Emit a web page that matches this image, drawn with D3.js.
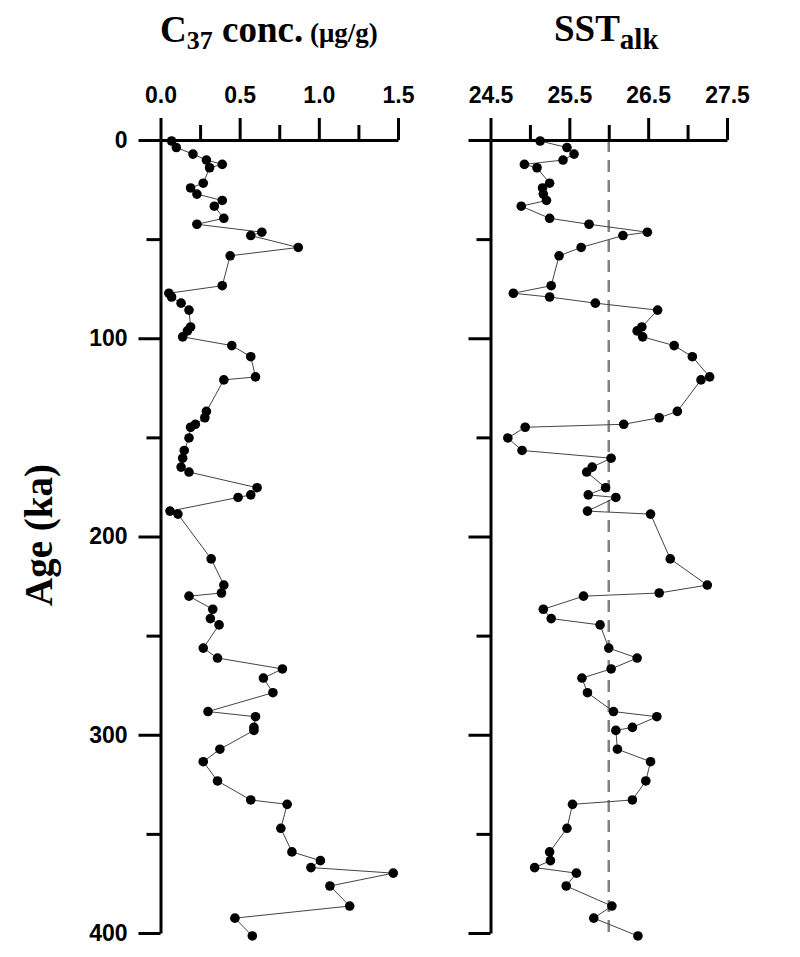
<!DOCTYPE html>
<html>
<head>
<meta charset="utf-8">
<script src="https://cdn.jsdelivr.net/npm/d3@7"></script>
<style>
body { margin: 0; background: #fff; }
.tick text { font-family: "Liberation Sans", Arial, sans-serif; font-weight: bold; font-size: 23px; fill: #000; }
.title { font-family: "Liberation Serif", "Times New Roman", serif; font-weight: bold; fill: #000; }
</style>
</head>
<body>
<div id="chart"></div>
<script>
// sample ages (ka), shared by both records
var ages = [0.5, 3.8, 7.1, 10.1, 12.3, 14, 21.8, 24.2, 27.3, 30.5,
    33.4, 39.5, 42.5, 46.5, 48.2, 54.2, 58.4, 73.5, 77.3, 79.2,
    82.3, 85.8, 94.3, 96.3, 99.3, 103.7, 109.3, 119.5, 121, 136.9,
    140.1, 143.4, 144.9, 150.3, 156.6, 160.5, 165, 167.5, 175.4, 179,
    180.3, 187.2, 188.7, 211.3, 224.5, 228.5, 230.1, 236.7, 241.4, 244.6,
    256.3, 261.3, 266.8, 271.4, 278.8, 288.3, 290.9, 296.3, 297.8, 307.3,
    313.6, 323.3, 332.9, 335.1, 347.2, 359.1, 363.5, 367, 369.8, 376.3,
    386.4, 392.5, 401.5];

// C37 alkenone concentration (ug/g)
var c37 = [0.07, 0.10, 0.205, 0.29, 0.39, 0.31, 0.27, 0.19, 0.23, 0.39,
    0.34, 0.40, 0.23, 0.64, 0.57, 0.87, 0.44, 0.39, 0.053, 0.07,
    0.13, 0.18, 0.19, 0.17, 0.14, 0.45, 0.57, 0.60, 0.40, 0.29,
    0.28, 0.22, 0.19, 0.18, 0.15, 0.14, 0.13, 0.18, 0.61, 0.57,
    0.49, 0.06, 0.11, 0.32, 0.40, 0.385, 0.18, 0.33, 0.315, 0.37,
    0.27, 0.36, 0.77, 0.65, 0.71, 0.30, 0.60, 0.59, 0.59, 0.375,
    0.27, 0.36, 0.57, 0.80, 0.76, 0.83, 1.01, 0.95, 1.47, 1.07,
    1.195, 0.47, 0.58];

// alkenone SST (deg C)
var sst = [25.13, 25.47, 25.56, 25.42, 24.93, 25.09, 25.25, 25.16, 25.17, 25.21,
    24.89, 25.25, 25.75, 26.49, 26.18, 25.65, 25.37, 25.27, 24.79, 25.25,
    25.83, 26.62, 26.42, 26.36, 26.43, 26.83, 27.06, 27.28, 27.17, 26.87,
    26.64, 26.19, 24.94, 24.72, 24.90, 26.03, 25.79, 25.72, 25.96, 25.74,
    26.09, 25.73, 26.53, 26.78, 27.25, 26.64, 25.68, 25.17, 25.27, 25.89,
    26.00, 26.36, 26.03, 25.66, 25.73, 26.06, 26.61, 26.30, 26.09, 26.11,
    26.53, 26.47, 26.30, 25.54, 25.47, 25.25, 25.26, 25.06, 25.59, 25.46,
    26.04, 25.81, 26.37];

var c37Major = [0, 0.5, 1.0, 1.5];
var c37Minor = [0.25, 0.75, 1.25];
var sstMajor = [24.5, 25.5, 26.5, 27.5];
var sstMinor = [25.0, 26.0, 27.0];
var ageMajor = [0, 100, 200, 300, 400];
var ageMinor = [50, 150, 250, 350];
var sstRef = 26.0;

var svg = d3.select("#chart")
    .append("svg")
    .attr("width", 800)
    .attr("height", 957);

var y = d3.scaleLinear().domain([0, 400]).range([140, 933]);
var xC = d3.scaleLinear().domain([0, 1.5]).range([160.5, 398]);
var xS = d3.scaleLinear().domain([24.5, 27.5]).range([490.5, 727]);

function styleAxis(g) {
    g.selectAll("path, line").attr("stroke", "#000").attr("stroke-width", 3);
    g.attr("font-family", null).attr("font-size", null);
}

function drawPanel(x, values, major, minor, ageLabels) {
    var left = x.range()[0];

    // top axis
    svg.append("g")
        .attr("transform", "translate(0,140)")
        .call(d3.axisTop(x).tickValues(major).tickSize(22).tickSizeOuter(0)
            .tickPadding(15).tickFormat(d3.format(".1f")))
        .call(styleAxis);
    svg.append("g")
        .attr("transform", "translate(0,140)")
        .call(d3.axisTop(x).tickValues(minor).tickSize(15).tickFormat(""))
        .call(styleAxis)
        .select(".domain").remove();

    // age axis
    svg.append("g")
        .attr("transform", "translate(" + left + ",0)")
        .call(d3.axisLeft(y).tickValues(ageMajor).tickSize(22).tickSizeOuter(0)
            .tickPadding(11).tickFormat(ageLabels ? d3.format("d") : ""))
        .call(styleAxis);
    svg.append("g")
        .attr("transform", "translate(" + left + ",0)")
        .call(d3.axisLeft(y).tickValues(ageMinor).tickSize(14).tickFormat(""))
        .call(styleAxis)
        .select(".domain").remove();

    var pts = ages.map(function (a, i) { return { age: a, v: values[i] }; });

    svg.append("path")
        .datum(pts)
        .attr("fill", "none")
        .attr("stroke", "#444")
        .attr("stroke-width", 1)
        .attr("d", d3.line()
            .x(function (d) { return x(d.v); })
            .y(function (d) { return y(d.age); }));

    svg.append("g").selectAll("circle")
        .data(pts)
        .enter().append("circle")
        .attr("cx", function (d) { return x(d.v); })
        .attr("cy", function (d) { return y(d.age); })
        .attr("r", 4.8)
        .attr("fill", "#000");
}

// reference line behind the SST record
svg.append("line")
    .attr("x1", xS(sstRef)).attr("x2", xS(sstRef))
    .attr("y1", y(0)).attr("y2", y(403))
    .attr("stroke", "#808080")
    .attr("stroke-width", 2.5)
    .attr("stroke-dasharray", "12,8");

drawPanel(xC, c37, c37Major, c37Minor, true);
drawPanel(xS, sst, sstMajor, sstMinor, false);

// titles
var t1 = svg.append("text").attr("class", "title").attr("x", 160).attr("y", 42);
t1.append("tspan").attr("font-size", 37).text("C");
t1.append("tspan").attr("font-size", 26).attr("dy", 7).text("37");
t1.append("tspan").attr("font-size", 37).attr("dy", -7).text(" conc.");
t1.append("tspan").attr("font-size", 27).text(" (\u03bcg/g)");

var t2 = svg.append("text").attr("class", "title").attr("x", 554).attr("y", 41);
t2.append("tspan").attr("font-size", 37).text("SST");
t2.append("tspan").attr("font-size", 29).attr("dy", 8).text("alk");

svg.append("text")
    .attr("class", "title")
    .attr("font-size", 39)
    .attr("text-anchor", "middle")
    .attr("transform", "translate(52,535) rotate(-90)")
    .text("Age (ka)");
</script>
</body>
</html>
